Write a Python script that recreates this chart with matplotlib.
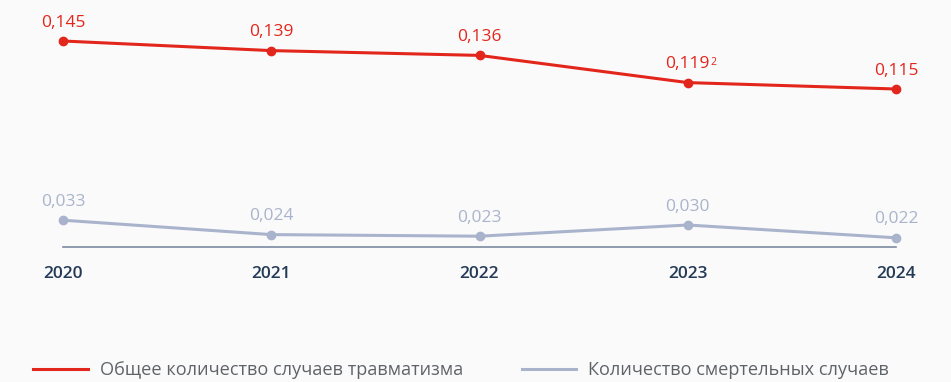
import matplotlib.pyplot as plt

plt.rcParams['font.family'] = ['Open Sans', 'DejaVu Sans']

years = [2020, 2021, 2022, 2023, 2024]
total = [0.145, 0.139, 0.136, 0.119, 0.115]
fatal = [0.033, 0.024, 0.023, 0.030, 0.022]
total_labels = ['0,145', '0,139', '0,136', '0,119', '0,115']
fatal_labels = ['0,033', '0,024', '0,023', '0,030', '0,022']
total_name = 'Общее количество случаев травматизма'
fatal_name = 'Количество смертельных случаев'

red = '#e3261c'
grey = '#a9b4cc'
bg = '#fafafa'

fig = plt.figure(figsize=(9.51, 3.82), dpi=100, facecolor=bg)
ax = fig.add_axes([63 / 951, 1 - 247 / 382, (896 - 63) / 951, (247 - 41) / 382])
ax.set_facecolor(bg)
ax.set_xlim(2020, 2024)
ax.set_ylim(0.01625, 0.145)

ax.plot(years, total, color=red, lw=2.2, marker='o', ms=6, clip_on=False, zorder=3)
ax.plot(years, fatal, color=grey, lw=2.2, marker='o', ms=6, clip_on=False, zorder=3)

for x, y, s in zip(years, total, total_labels):
    t = ax.annotate(s, (x, y), xytext=(0, 10.3), textcoords='offset points',
                    ha='center', va='baseline', fontsize=12.5, color=red)
    if x == 2023:
        # footnote mark
        ax.annotate('2', xy=(1, 0.97), xycoords=t, xytext=(0.6, 0), textcoords='offset points',
                    ha='left', va='top', fontsize=7.5, color=red)
for x, y, s in zip(years, fatal, fatal_labels):
    ax.annotate(s, (x, y), xytext=(0, 10.3), textcoords='offset points',
                ha='center', va='baseline', fontsize=12.5, color=grey)

for side in ['top', 'right', 'left']:
    ax.spines[side].set_visible(False)
ax.spines['bottom'].set_color('#7d8ba0')
ax.spines['bottom'].set_linewidth(1.2)
ax.set_yticks([])
ax.set_xticks(years)
ax.set_xticklabels([str(y) for y in years], fontsize=12.5, color='#243a56', fontweight='semibold')
ax.tick_params(axis='x', length=0, pad=14)

leg = fig.legend(handles=[plt.Line2D([], [], color=red, lw=2.2),
                          plt.Line2D([], [], color=grey, lw=2.2)],
                 labels=[total_name, fatal_name], loc='center left',
                 bbox_to_anchor=(33 / 951, 1 - 370 / 382), ncol=2, frameon=False,
                 borderpad=0, borderaxespad=0,
                 fontsize=13.1, handlelength=3.0, handletextpad=0.66, columnspacing=3.24,
                 labelcolor='#5f6368')

fig.savefig('out.png', dpi=100, facecolor=bg)
